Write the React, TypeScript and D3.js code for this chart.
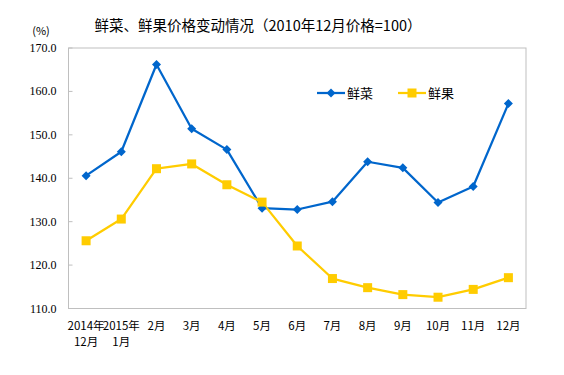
import React from "react";
import * as d3 from "d3";

const categories = ["2014年|12月", "2015年|1月", "2月", "3月", "4月", "5月", "6月", "7月", "8月", "9月", "10月", "11月", "12月"];
const vegetables = [140.6, 146.1, 166.2, 151.4, 146.6, 133.1, 132.8, 134.6, 143.8, 142.4, 134.4, 138.1, 157.2];
const fruits = [125.6, 130.6, 142.2, 143.3, 138.5, 134.5, 124.4, 116.9, 114.8, 113.2, 112.6, 114.4, 117.1];
const yTicks = [110, 120, 130, 140, 150, 160, 170];
const seriesNames = ["鲜菜", "鲜果"];
const title = "鲜菜、鲜果价格变动情况（2010年12月价格=100）";

const W = 564, H = 375;
const L = 68.5, R = 526, T = 48, B = 308.5;
const BLUE = "#0066CC", YELLOW = "#FFCC00";
const CJK = "'Noto Sans CJK SC', sans-serif";
const SERIF = "'Liberation Serif', 'Times New Roman', 'DejaVu Serif', serif";

export default function App() {
  const x = d3.scaleBand().domain(categories).range([L, R]);
  const cx = (i: number) => (x(categories[i]) as number) + x.bandwidth() / 2;
  const y = d3.scaleLinear().domain([110, 170]).range([B, T]);
  const line = d3.line<number>().x((_, i) => cx(i)).y((d) => y(d));
  const diamond = (px: number, py: number, r = 4.5) => `M${px},${py - r}L${px + r},${py}L${px},${py + r}L${px - r},${py}Z`;

  return (
    <svg width={W} height={H} style={{ position: "absolute", left: 0, top: 0, background: "#fff" }}>
      <rect x={0} y={0} width={W} height={H} fill="#fff" />
      <text x={258} y={31} textAnchor="middle" fontFamily={CJK} fontSize={14.5} fill="#000">{title}</text>
      <text x={41} y={35} textAnchor="middle" fontFamily={CJK} fontSize={11} fill="#000">(%)</text>
      <rect x={L} y={T} width={R - L} height={B - T} fill="none" stroke="#BFBFBF" strokeWidth={1} />
      {yTicks.map((t) => (
        <g key={t}>
          <line x1={L} x2={L + 4} y1={y(t)} y2={y(t)} stroke="#BFBFBF" />
          <text x={L - 12} y={y(t) + 4} textAnchor="end" style={{ fontFamily: SERIF }} fontSize={12} fill="#000">{t.toFixed(1)}</text>
        </g>
      ))}
      {categories.map((c, i) => {
        const parts = c.split("|");
        return (
          <text key={c} textAnchor="middle" fontFamily={CJK} fontSize={11.5} fill="#000">
            {parts.map((p, j) => (
              <tspan key={j} x={cx(i)} y={330 + j * 16}>{p}</tspan>
            ))}
          </text>
        );
      })}
      <path d={line(vegetables) as string} fill="none" stroke={BLUE} strokeWidth={2.25} strokeLinejoin="round" />
      <path d={line(fruits) as string} fill="none" stroke={YELLOW} strokeWidth={2.25} strokeLinejoin="round" />
      {vegetables.map((v, i) => (
        <path key={i} d={diamond(cx(i), y(v))} fill={BLUE} />
      ))}
      {fruits.map((v, i) => (
        <rect key={i} x={cx(i) - 4.5} y={y(v) - 4.5} width={9} height={9} fill={YELLOW} />
      ))}
      <g>
        <line x1={317} x2={345} y1={93} y2={93} stroke={BLUE} strokeWidth={2.25} />
        <path d={diamond(331, 93)} fill={BLUE} />
        <text x={347} y={98} fontFamily={CJK} fontSize={13} fill="#000">{seriesNames[0]}</text>
        <line x1={398} x2={426} y1={93} y2={93} stroke={YELLOW} strokeWidth={2.25} />
        <rect x={407.5} y={88.5} width={9} height={9} fill={YELLOW} />
        <text x={428} y={98} fontFamily={CJK} fontSize={13} fill="#000">{seriesNames[1]}</text>
      </g>
    </svg>
  );
}
